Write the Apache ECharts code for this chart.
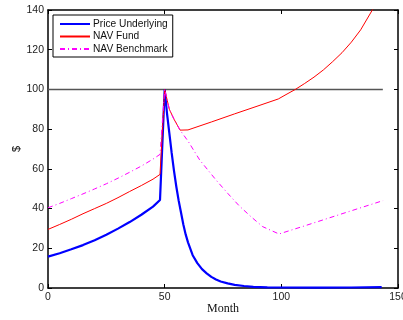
<!DOCTYPE html>
<html>
<head>
<meta charset="utf-8">
<script src="https://cdn.jsdelivr.net/npm/echarts@6/dist/echarts.min.js"></script>
<style>html,body{margin:0;padding:0;background:#fff}#c{width:403px;height:320px}</style>
</head>
<body>
<div id="c"></div>
<script>
var xTicks = [0, 50, 100, 150];
var yTicks = [0, 20, 40, 60, 80, 100, 120, 140];

var priceMonths = [0,5,10,15,20,25,30,35,40,45,48,50,51,52,53,54,55,56,57,58,59,60,62,64,66,68,70,72,74,77,80,84,88,94,100,115,130,143];
var priceValues = [15.8,17.5,19.5,21.6,24.1,26.8,29.9,33.2,36.9,41.0,44.3,100,88,78,68,59,51,44,38,32,27,23,16.5,12.5,9.5,7.4,5.6,4.3,3.3,2.3,1.6,1.0,0.6,0.35,0.25,0.2,0.25,0.4];

var fundMonths = [0,5,10,15,20,25,30,35,40,45,48,50,52,54,56.6,60,70,80,90,98.7,102,106,110,114,118,122,126,130,134,138,143];
var fundValues = [29.5,32,34.6,37.4,40,42.6,45.5,48.6,51.6,54.8,57.2,100,90,85,79.5,79.6,83.6,87.7,91.7,95.2,97.4,100,103,106.2,109.8,114,118.5,123.8,130,138,148];

var benchMonths = [0,5,10,15,20,25,30,35,40,45,48,50,52,54,56.6,60,65,72,77,82,87,92,99,110,120,130,143.6];
var benchValues = [40.4,42.6,45,47.4,49.9,52.5,55.3,58.3,61.4,64.9,67.3,100,90,85,79.5,74,64.5,54.4,47.7,41.3,35.9,30.9,27.2,31.3,35.1,38.9,44];

var refMonths = [0, 143.5];
var refValues = [100, 100];

function pairs(xs, ys) { return xs.map(function (x, i) { return [x, ys[i]]; }); }

var chart = echarts.init(document.getElementById('c'), null, {renderer: 'canvas'});
var font = 'Liberation Sans, Arial, Helvetica, sans-serif';
var tick = {show: true, inside: true, length: 4, lineStyle: {color: '#000', width: 1}};
var line = {show: true, onZero: false, lineStyle: {color: '#000', width: 1.5}};

chart.setOption({
  animation: false,
  backgroundColor: '#fff',
  grid: {left: 48, right: 5, top: 10, bottom: 32, containLabel: false, outerBoundsMode: 'none'},
  legend: {
    data: ['Price Underlying', 'NAV Fund', 'NAV Benchmark'],
    orient: 'vertical', left: 53, top: 15,
    itemWidth: 30, itemHeight: 10, itemGap: 2.5,
    padding: [4, 5, 3, 6],
    itemStyle: {opacity: 0},
    backgroundColor: '#fff', borderColor: '#000', borderWidth: 1, borderRadius: 0,
    textStyle: {fontFamily: font, fontSize: 10.2, color: '#111', padding: [0, 0, 0, -2]}
  },
  xAxis: [{
    type: 'value', min: 0, max: 150, interval: 50, position: 'bottom',
    name: 'Month', nameLocation: 'middle', nameGap: 15, nameMoveOverlap: false,
    nameTextStyle: {fontFamily: 'Liberation Serif, Times New Roman, serif', fontSize: 12, color: '#111'},
    axisLine: line, axisTick: tick, splitLine: {show: false},
    axisLabel: {fontFamily: font, fontSize: 10.5, color: '#222', margin: 4}
  }, {
    type: 'value', min: 0, max: 150, interval: 50, position: 'top',
    axisLine: line, axisTick: tick, splitLine: {show: false}, axisLabel: {show: false}
  }],
  yAxis: [{
    type: 'value', min: 0, max: 140, interval: 20, position: 'left',
    name: '$', nameLocation: 'middle', nameGap: 31, nameRotate: 90, nameMoveOverlap: false,
    nameTextStyle: {fontFamily: font, fontSize: 11, color: '#111', align: 'center', verticalAlign: 'middle'},
    axisLine: line, axisTick: tick, splitLine: {show: false},
    axisLabel: {fontFamily: font, fontSize: 10.5, color: '#222', margin: 4}
  }, {
    type: 'value', min: 0, max: 140, interval: 20, position: 'right',
    axisLine: line, axisTick: tick, splitLine: {show: false}, axisLabel: {show: false}
  }],
  series: [{
    name: 'ref', type: 'line', data: pairs(refMonths, refValues),
    symbol: 'none', z: 1, lineStyle: {color: '#555', width: 1.5}, silent: true
  }, {
    name: 'Price Underlying', type: 'line', data: pairs(priceMonths, priceValues),
    symbol: 'none', smooth: false, z: 3, color: '#0000ff',
    lineStyle: {color: '#0000ff', width: 2.2}
  }, {
    name: 'NAV Fund', type: 'line', data: pairs(fundMonths, fundValues),
    symbol: 'none', z: 4, color: '#ff0000',
    lineStyle: {color: '#ff0000', width: 1}
  }, {
    name: 'NAV Benchmark', type: 'line', data: pairs(benchMonths, benchValues),
    symbol: 'none', z: 5, color: '#ff00ff',
    lineStyle: {color: '#ff00ff', width: 1, type: [5, 3, 1, 3]}
  }]
});
</script>
</body>
</html>
